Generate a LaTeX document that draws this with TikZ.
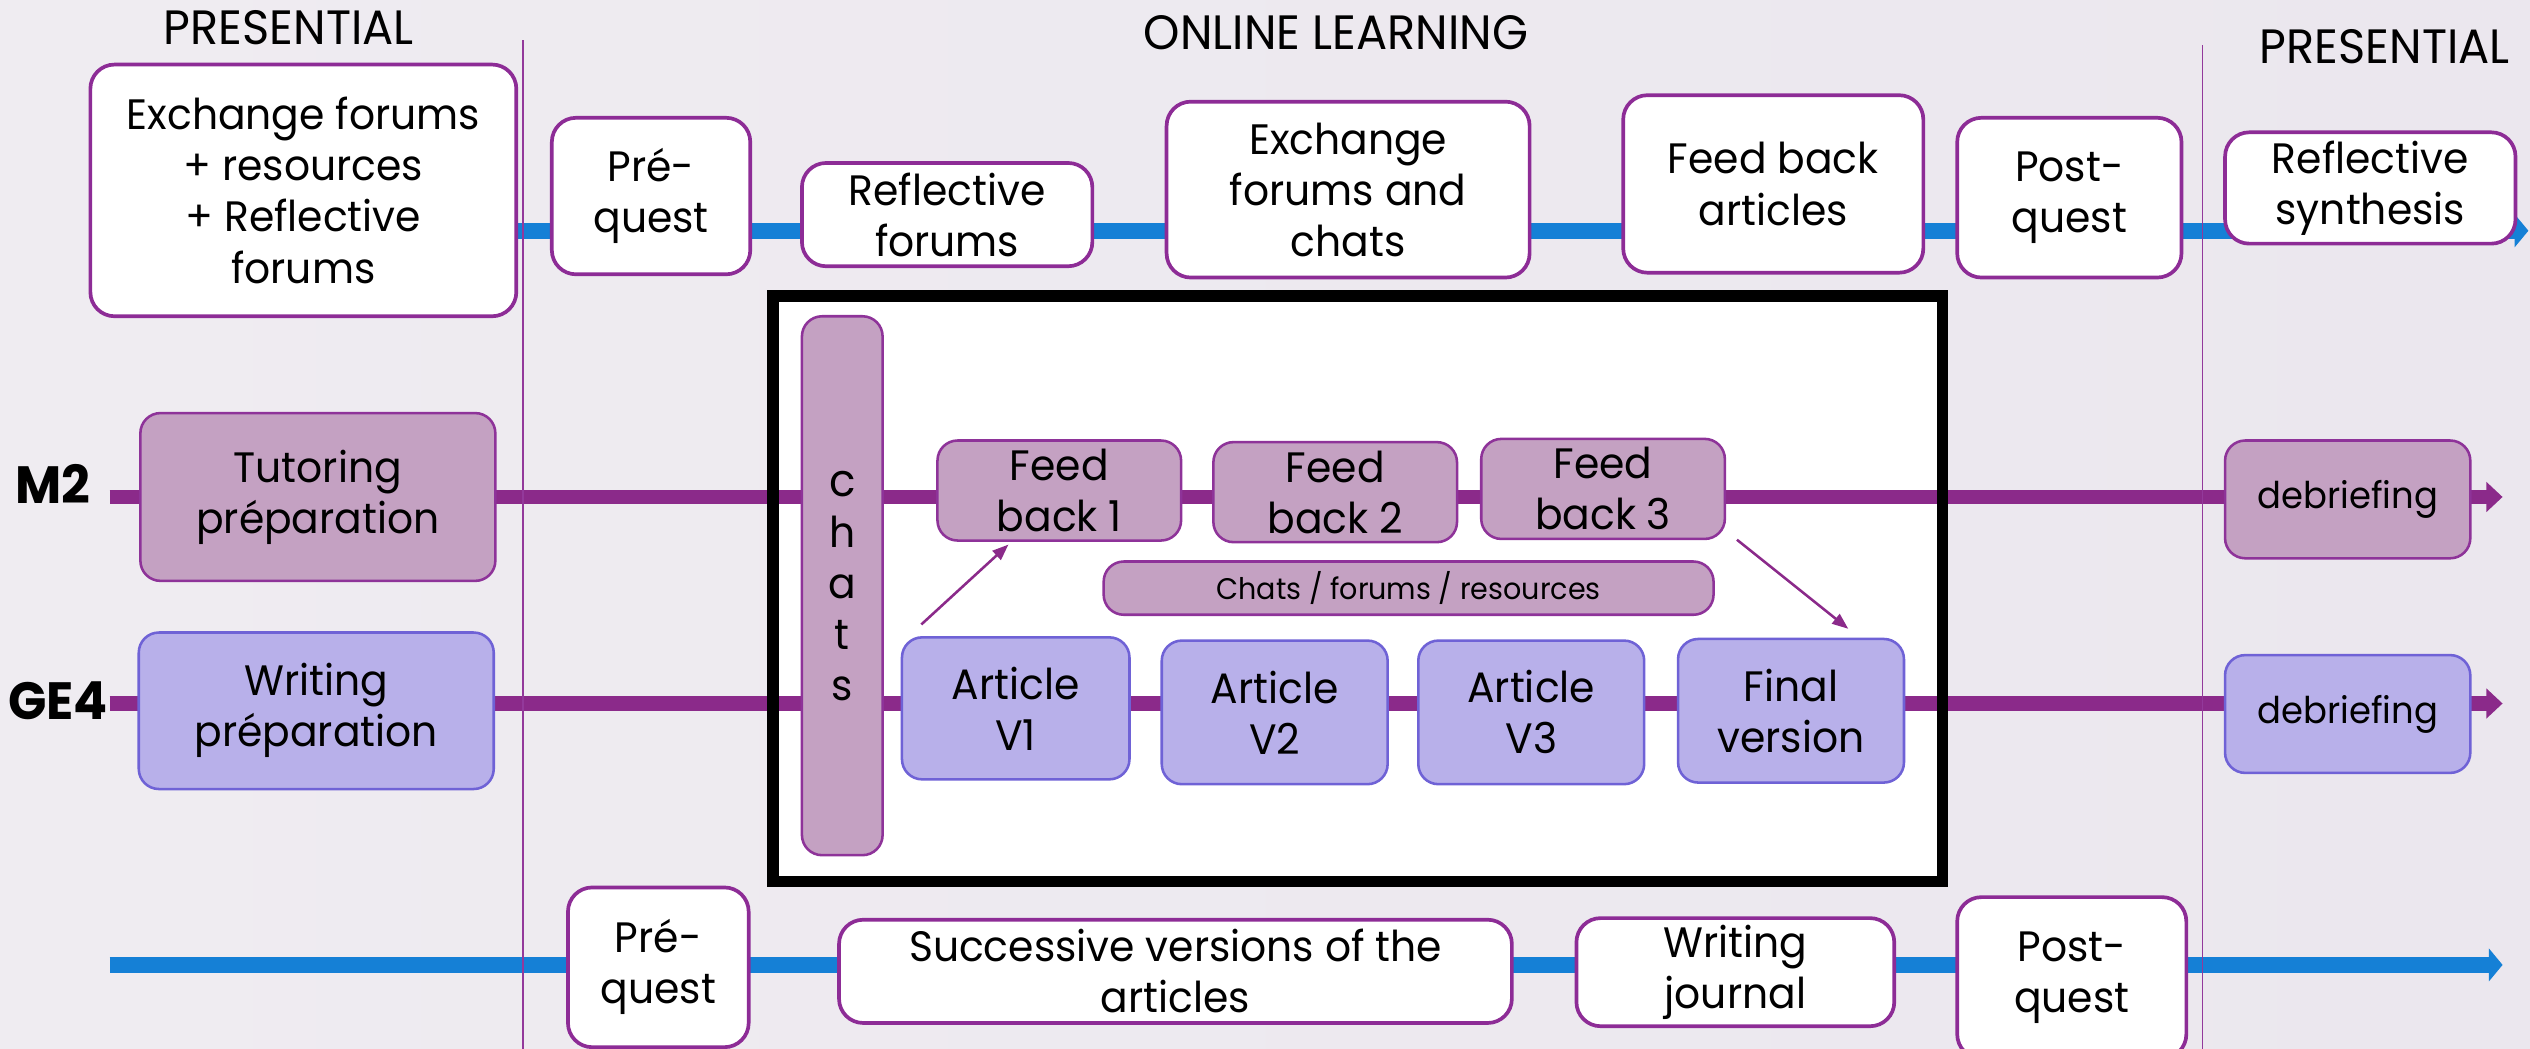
\documentclass[tikz,border=0pt]{standalone}
\usepackage{fontspec}
\setmainfont[FakeStretch=0.96]{Poppins}
\usetikzlibrary{arrows.meta}
\definecolor{bgL}{HTML}{EFECF1}
\definecolor{bgR}{HTML}{EBE7EE}
\definecolor{wbd}{HTML}{8D2C96}
\definecolor{mfill}{HTML}{C4A1C2}
\definecolor{mbd}{HTML}{8E3399}
\definecolor{gfill}{HTML}{B8B0EA}
\definecolor{gbd}{HTML}{6F62D6}
\definecolor{blc}{HTML}{1580D6}
\definecolor{plc}{HTML}{8B2A8A}
\definecolor{vlc}{HTML}{93399B}
\newcommand\mainsz{\fontsize{15}{18}\selectfont}
\newcommand\bx[7]{\node[#2, minimum width={(#5-#3)*0.02cm}, minimum height={(#6-#4)*0.02cm}] (#1) at ({(#3+#5)/2},{(#4+#6)/2}) {#7};}
\begin{document}
\begin{tikzpicture}[x=0.02cm,y=-0.02cm,
  wbox/.style={draw=wbd, fill=white, line width=1.3pt, rounded corners=0.3cm, align=center, inner sep=0pt, outer sep=0pt, font=\mainsz},
  mbox/.style={draw=mbd, fill=mfill, line width=0.9pt, rounded corners=0.25cm, align=center, inner sep=0pt, outer sep=0pt, font=\mainsz},
  gbox/.style={draw=gbd, fill=gfill, line width=0.9pt, rounded corners=0.25cm, align=center, inner sep=0pt, outer sep=0pt, font=\mainsz},
  title/.style={font=\fontsize{17}{20}\selectfont, inner sep=0pt},
  rowlabel/.style={font=\fontsize{18.5}{20}\selectfont\bfseries, inner sep=0pt},
  blueline/.style={draw=blc, line width=5.7pt, -{Triangle[length=0.17cm,width=0.4cm]}},
  purpleline/.style={draw=plc, line width=5pt, -{Triangle[length=0.2cm,width=0.36cm]}},
  vline/.style={draw=vlc, line width=0.6pt},
  thinarr/.style={draw=plc, line width=0.9pt, -{Triangle[length=0.2cm,width=0.15cm]}}
]
\useasboundingbox (0,0) rectangle (1568,650);
\shade[left color=bgL, middle color=white, right color=bgR] (0,0) rectangle (1568,650);
% frame fill
\fill[white] (479,183.5) rectangle (1204,546.5);
% timeline coordinates
\coordinate (tbs) at (320,143);
\coordinate (tbe) at (1567,143);
\coordinate (m2s) at (68,308);
\coordinate (m2e) at (1551,308);
\coordinate (g4s) at (68,436);
\coordinate (g4e) at (1551,436);
\coordinate (bbs) at (68,598);
\coordinate (bbe) at (1551,598);
\draw[blueline] (tbs) -- (tbe);
\draw[purpleline] (m2s) -- (m2e);
\draw[purpleline] (g4s) -- (g4e);
\draw[blueline] (bbs) -- (bbe);
% vertical separators
\coordinate (v1t) at (324,25);
\coordinate (v1b) at (324,650);
\coordinate (v2t) at (1365,28);
\coordinate (v2b) at (1365,650);
\draw[vline] (v1t) -- (v1b);
\draw[vline] (v2t) -- (v2b);
% frame
\draw[line width=4pt] (479,183.5) rectangle (1204,546.5);
% titles
\node[title] (tp1) at (179,17) {PRESENTIAL};
\node[title] (tol) at (828,20) {ONLINE LEARNING};
\node[title] (tp2) at (1478,29) {PRESENTIAL};
\node[rowlabel] (lm2) at (33,300) {M2};
\node[rowlabel] (lg4) at (36,434) {GE4};
% top row
\bx{t1}{wbox}{56}{40}{320}{196}{Exchange forums\\+ resources\\+ Reflective\\forums}
\bx{t2}{wbox}{342}{73}{465}{170}{Pré-\\quest}
\bx{t3}{wbox}{497}{101}{677}{165}{Reflective\\forums}
\bx{t4}{wbox}{723}{63}{948}{172}{Exchange\\forums and\\chats}
\bx{t5}{wbox}{1006}{59}{1192}{169}{Feed back\\articles}
\bx{t6}{wbox}{1213}{73}{1352}{172}{Post-\\quest}
\bx{t7}{wbox}{1379}{82}{1559}{151}{Reflective\\synthesis}
% M2 row
\bx{m1}{mbox}{87}{256}{307}{360}{Tutoring\\préparation}
\bx{ch}{mbox}{497}{196}{547}{530}{\fontsize{16}{18.4}\selectfont c\\h\\a\\t\\s}
\bx{f1}{mbox}{581}{273}{732}{335}{Feed\\back 1}
\bx{f2}{mbox}{752}{274}{903}{336}{Feed\\back 2}
\bx{f3}{mbox}{918}{272}{1069}{334}{Feed\\back 3}
\bx{cfr}{mbox}{684}{348}{1062}{381}{\fontsize{10.5}{12}\selectfont Chats / forums / resources}
\bx{d1}{mbox}{1379}{273}{1531}{346}{\fontsize{13}{15}\selectfont debriefing}
% GE4 row
\bx{g1}{gbox}{86}{392}{306}{489}{Writing\\préparation}
\bx{a1}{gbox}{559}{395}{700}{483}{Article\\V1}
\bx{a2}{gbox}{720}{397}{860}{486}{Article\\V2}
\bx{a3}{gbox}{879}{397}{1019}{486}{Article\\V3}
\bx{fv}{gbox}{1040}{396}{1180}{485}{Final\\version}
\bx{d2}{gbox}{1379}{406}{1531}{479}{\fontsize{13}{15}\selectfont debriefing}
% bottom row
\bx{b1}{wbox}{352}{550}{464}{649}{Pré-\\quest}
\bx{b2}{wbox}{520}{570}{937}{634}{Successive versions of the\\articles}
\bx{b3}{wbox}{977}{569}{1174}{636}{Writing\\journal}
\bx{b4}{wbox}{1213}{556}{1355}{656}{Post-\\quest}
% arrows
\draw[thinarr] ([xshift=0.24cm,yshift=0.16cm]a1.north west) -- ([xshift=0.88cm,yshift=-0.05cm]f1.south west);
\draw[thinarr] ([xshift=0.15cm,yshift=-0.01cm]f3.south east) -- ([xshift=0.71cm,yshift=0.126cm]fv.north);
\end{tikzpicture}
\end{document}
